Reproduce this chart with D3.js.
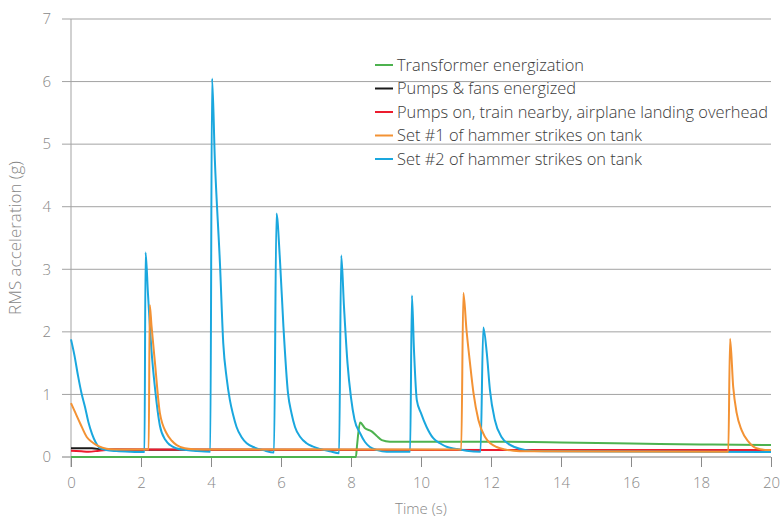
<!DOCTYPE html>
<html>
<head>
<meta charset="utf-8">
<script src="https://cdn.jsdelivr.net/npm/d3@7"></script>
<style>
  body { margin: 0; background: #fff; }
  svg text { font-family: "Open Sans", "Noto Sans", sans-serif; font-weight: 300; }
</style>
</head>
<body>
<svg id="chart" width="780" height="519"></svg>
<script>
// Series data, [time (s), RMS acceleration (g)]
var transformer = [[0,0],[8.1,0],[8.14,0],[8.17,0.17],[8.26,0.55],[8.4,0.46],[8.59,0.41],[8.73,0.34],
  [8.88,0.27],[9.11,0.245],[10,0.245],[12,0.245],[13.2,0.24],[14,0.23],[16,0.215],[18,0.2],[20,0.19]];
var pumpsFans = [[0,0.14],[0.6,0.14],[0.9,0.12],[2,0.115],[20,0.11]];
var pumpsTrain = [[0,0.1],[0.3,0.09],[0.5,0.085],[0.8,0.1],[1.2,0.12],[2,0.12],[11,0.11],[20,0.11]];
var hammer1 = [[0,0.86],[0.13,0.7],[0.26,0.54],[0.45,0.32],[0.6,0.24],[0.73,0.19],[0.9,0.15],[1.11,0.125],
  [1.5,0.12],[2.22,0.12],[2.25,2.43],[2.3,2.1],[2.4,1.5],[2.54,0.7],[2.73,0.38],[2.88,0.26],[3.02,0.19],
  [3.25,0.14],[3.49,0.125],[4,0.12],[11.15,0.12],[11.21,2.62],[11.3,2.03],[11.4,1.5],[11.5,1.02],
  [11.64,0.59],[11.83,0.32],[12,0.21],[12.16,0.16],[12.4,0.12],[12.64,0.1],[13,0.09],[18.78,0.085],
  [18.83,1.89],[18.92,1.12],[19.02,0.7],[19.16,0.43],[19.35,0.25],[19.59,0.14],[19.92,0.11],[20,0.11]];
var hammer2 = [[0,1.88],[0.1,1.62],[0.2,1.3],[0.3,1.02],[0.4,0.8],[0.5,0.55],[0.6,0.37],[0.7,0.24],
  [0.83,0.14],[1,0.11],[1.3,0.095],[1.7,0.085],[2.1,0.08],[2.13,3.27],[2.2,2.6],[2.3,1.7],[2.4,1.1],
  [2.54,0.5],[2.7,0.27],[2.83,0.19],[3,0.14],[3.3,0.11],[3.6,0.095],[3.98,0.085],[4.03,6.05],[4.11,4.75],
  [4.26,3.04],[4.35,1.82],[4.45,1.25],[4.54,0.91],[4.63,0.68],[4.73,0.48],[4.87,0.32],[5.02,0.22],
  [5.25,0.15],[5.49,0.11],[5.8,0.07],[5.87,3.89],[5.97,3.15],[6.07,2.08],[6.2,1.02],[6.3,0.7],[6.4,0.48],
  [6.55,0.32],[6.73,0.22],[6.9,0.17],[7.11,0.13],[7.4,0.09],[7.66,0.06],[7.72,3.22],[7.8,2.4],[7.9,1.5],
  [8,0.95],[8.1,0.6],[8.26,0.38],[8.4,0.24],[8.54,0.16],[8.75,0.11],[9.02,0.085],[9.69,0.085],[9.74,2.58],
  [9.8,1.7],[9.88,0.91],[10,0.7],[10.16,0.48],[10.35,0.3],[10.54,0.22],[10.75,0.16],[11,0.13],[11.3,0.1],
  [11.7,0.085],[11.78,2.07],[11.88,1.66],[11.97,1.07],[12.11,0.59],[12.3,0.32],[12.5,0.21],[12.67,0.16],
  [13,0.11],[13.5,0.09],[20,0.08]];

var legendNames = ["Transformer energization", "Pumps & fans energized",
  "Pumps on, train nearby, airplane landing overhead", "Set #1 of hammer strikes on tank",
  "Set #2 of hammer strikes on tank"];
var colors = ["#4db24f", "#1a1a1a", "#ec1c2e", "#f39234", "#1aa7de"];
var seriesList = [transformer, pumpsFans, pumpsTrain, hammer1, hammer2];
// drawing order: orange on top of blue
var drawOrder = [0, 1, 2, 4, 3];

var xTicks = [0, 2, 4, 6, 8, 10, 12, 14, 16, 18, 20];
var yTicks = [0, 1, 2, 3, 4, 5, 6, 7];

var svg = d3.select("#chart");
var x = d3.scaleLinear().domain([0, 20]).range([71, 771]);
var y = d3.scaleLinear().domain([0, 7]).range([457, 19]);

// horizontal gridlines
svg.append("g").selectAll("line")
  .data(yTicks)
  .enter().append("line")
    .attr("x1", 62).attr("x2", 771)
    .attr("y1", function(d) { return y(d); })
    .attr("y2", function(d) { return y(d); })
    .attr("stroke", function(d) { return d === 0 ? "#7c7c7c" : "#a3a3a3"; })
    .attr("stroke-width", 1);

// y axis
var yAxis = svg.append("g")
  .attr("transform", "translate(71,0)")
  .attr("color", "#888")
  .call(d3.axisLeft(y).tickValues(yTicks).tickFormat(d3.format("d")).tickSize(0).tickPadding(20));
yAxis.select(".domain").remove();
yAxis.append("line").attr("x1", 0).attr("x2", 0).attr("y1", 19).attr("y2", 467)
  .attr("stroke", "#a3a3a3");

// x axis
var xAxis = svg.append("g")
  .attr("transform", "translate(0,457)")
  .attr("color", "#888")
  .call(d3.axisBottom(x).tickValues(xTicks).tickFormat(d3.format("d")).tickSize(10).tickPadding(10).tickSizeOuter(0));
xAxis.select(".domain").remove();
xAxis.selectAll(".tick line").attr("stroke", "#8a8a8a");

svg.selectAll(".tick text")
  .style("fill", "#888")
  .style("font-size", "15px");

// axis titles
svg.append("text")
  .attr("x", 421).attr("y", 514)
  .attr("text-anchor", "middle")
  .style("fill", "#888")
  .style("font-size", "15px")
  .text("Time (s)");
svg.append("text")
  .attr("transform", "translate(21,238) rotate(-90)")
  .attr("text-anchor", "middle")
  .style("fill", "#888")
  .style("font-size", "17px")
  .text("RMS acceleration (g)");

// lines
var line = d3.line()
  .curve(d3.curveMonotoneX)
  .x(function(d) { return x(d[0]); })
  .y(function(d) { return y(d[1]); });

svg.append("g").selectAll("path")
  .data(drawOrder)
  .enter().append("path")
    .attr("d", function(i) { return line(seriesList[i]); })
    .attr("fill", "none")
    .attr("stroke", function(i) { return colors[i]; })
    .attr("stroke-width", 2)
    .attr("stroke-linejoin", "round");

// legend
var legend = svg.append("g").selectAll("g")
  .data(legendNames)
  .enter().append("g")
    .attr("transform", function(d, i) { return "translate(375," + (65 + i * 23.5) + ")"; });
legend.append("line")
  .attr("x1", 0).attr("x2", 18)
  .attr("stroke", function(d, i) { return colors[i]; })
  .attr("stroke-width", 2);
legend.append("text")
  .attr("x", 22).attr("dy", "0.35em")
  .style("fill", "#3a3a3a")
  .style("font-size", "16.4px")
  .text(function(d) { return d; });
</script>
</body>
</html>
